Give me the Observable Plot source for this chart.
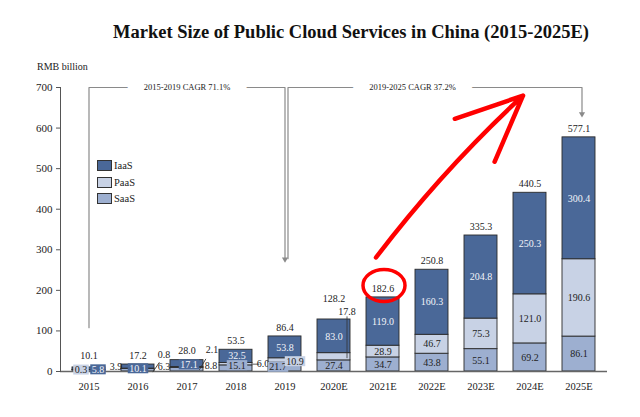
<!DOCTYPE html>
<html>
<head>
<meta charset="utf-8">
<script src="https://cdn.jsdelivr.net/npm/d3@7"></script>
<script src="https://cdn.jsdelivr.net/npm/@observablehq/plot@0.6"></script>
<style>
  body { margin: 0; background: #fff; }
  #wrap { position: relative; width: 640px; height: 417px; font-family: "Liberation Serif", "Times New Roman", serif; color: #222; }
  #chart { position: absolute; left: 0; top: 0; }
  #title { position: absolute; left: 0; width: 702px; top: 23px; text-align: center; font-weight: bold; font-size: 18.5px; line-height: 18.5px; color: #111; white-space: nowrap; }
  #unit { position: absolute; left: 37px; top: 62px; font-size: 10px; line-height: 10px; color: #222; }
  .lg { position: absolute; left: 97px; height: 11px; font-size: 10.5px; line-height: 11px; color: #222; }
  .lg span { display: inline-block; box-sizing: border-box; width: 15px; height: 11px; border: 1px solid #333; vertical-align: top; margin-right: 2px; }
</style>
</head>
<body>
<div id="wrap">
  <div id="chart"></div>
  <div id="title">Market Size of Public Cloud Services in China (2015-2025E)</div>
  <div id="unit">RMB billion</div>
  <div id="legend"></div>
</div>
<script>
// ---------------- data ----------------
const years  = ["2015","2016","2017","2018","2019","2020E","2021E","2022E","2023E","2024E","2025E"];
const iaas   = [5.8, 10.1, 17.1, 32.5, 53.8, 83.0, 119.0, 160.3, 204.8, 250.3, 300.4];
const paas   = [0.3, 0.8, 2.1, 6.0, 10.9, 17.8, 28.9, 46.7, 75.3, 121.0, 190.6];
const saas   = [3.9, 6.3, 8.8, 15.1, 21.7, 27.4, 34.7, 43.8, 55.1, 69.2, 86.1];
const totals = [10.1, 17.2, 28.0, 53.5, 86.4, 128.2, 182.6, 250.8, 335.3, 440.5, 577.1];
const seriesNames = ["IaaS", "PaaS", "SaaS"];
const yTicks = [0, 100, 200, 300, 400, 500, 600, 700];
const cagrLabels = ["2015-2019 CAGR 71.1%", "2019-2025 CAGR 37.2%"];

// ---------------- styling ----------------
const colors = {IaaS: "#4a6898", PaaS: "#c8d2e5", SaaS: "#9dafd0"};
const stackOrder = ["SaaS", "PaaS", "IaaS"];
const values = {IaaS: iaas, PaaS: paas, SaaS: saas};

const rows = [];
years.forEach((yr, i) => {
  let base = 0;
  for (const s of stackOrder) {
    const v = values[s][i];
    rows.push({year: yr, series: s, value: v, y1: base, y2: base + v, mid: base + v / 2});
    base += v;
  }
});
const totalRows = years.map((yr, i) => ({year: yr, total: totals[i]}));

// label placement tweaks for thin early segments (pixels)
const special = {
  "2015|PaaS": {dx: -8, dy: 0, box: true},
  "2015|IaaS": {dx: 9, dy: 1, box: true},
  "2015|SaaS": {dx: 27, dy: -4},
  "2016|IaaS": {dx: 0, dy: 2, box: true},
  "2016|PaaS": {dx: 26, dy: -14},
  "2016|SaaS": {dx: 26, dy: -3},
  "2017|IaaS": {dx: 2, dy: 1, box: true},
  "2017|PaaS": {dx: 25, dy: -18},
  "2017|SaaS": {dx: 24, dy: -4},
  "2018|IaaS": {dx: 1, dy: -1, box: true},
  "2018|SaaS": {dx: 1, dy: -3, box: true},
  "2018|PaaS": {dx: 27, dy: 0},
  "2019|SaaS": {dx: -7, dy: 0, box: true},
  "2019|PaaS": {dx: 10, dy: 1, box: true},
  "2020E|PaaS": {dx: 13, dy: -45}
};
const leaders = [
  {key: "2016|PaaS", dx: 15, dy: 3, length: 11, rotate: 34},
  {key: "2017|PaaS", dx: 12.5, dy: 2, length: 12, rotate: 31},
  {key: "2018|PaaS", dx: 17, dy: 0, length: 6, rotate: 90},
  {key: "2020E|PaaS", dx: 13, dy: 1, length: 41, rotate: 0}
];
const totalDy = {"2015": -12, "2020E": -21};

const keyOf = d => d.year + "|" + d.series;
const fmt = v => v.toFixed(1);
const lineShape = {draw(ctx, l) { ctx.moveTo(0, 0); ctx.lineTo(0, -l); }};
const ellipse = {draw(ctx) {
  const rx = 21, ry = 16, k = 0.5523;
  ctx.moveTo(rx, 0);
  ctx.bezierCurveTo(rx, ry * k, rx * k, ry, 0, ry);
  ctx.bezierCurveTo(-rx * k, ry, -rx, ry * k, -rx, 0);
  ctx.bezierCurveTo(-rx, -ry * k, -rx * k, -ry, 0, -ry);
  ctx.bezierCurveTo(rx * k, -ry, rx, -ry * k, rx, 0);
  ctx.closePath();
}};

const marks = [];
// brackets (CAGR)
const bracketColor = "#8a8a8a";
marks.push(Plot.line([{x: years[0], y: 108}, {x: years[0], y: 700}, {x: years[4], y: 700}, {x: years[4], y: 273}],
  {x: "x", y: "y", stroke: bracketColor, strokeWidth: 1.2, dx: 0}));
marks.push(Plot.line([{x: years[4], y: 278}, {x: years[4], y: 700}, {x: years[10], y: 700}, {x: years[10], y: 631}],
  {x: "x", y: "y", stroke: bracketColor, strokeWidth: 1.2, dx: 3}));
marks.push(Plot.dot([{x: years[4], y: 268}], {x: "x", y: "y", symbol: "triangle", rotate: 180, r: 2.3, fill: bracketColor, dy: -3.5, dx: 0}));
marks.push(Plot.dot([{x: years[10], y: 626}], {x: "x", y: "y", symbol: "triangle", rotate: 180, r: 2.3, fill: bracketColor, dy: -3.5, dx: 3}));
marks.push(Plot.text([{x: years[2], y: 700, t: cagrLabels[0]}], {x: "x", y: "y", text: "t", fontSize: 8.5, fill: "#222", stroke: "white", strokeWidth: 33, dx: 0}));
marks.push(Plot.text([{x: years[6], y: 700, t: cagrLabels[1]}], {x: "x", y: "y", text: "t", fontSize: 8.5, fill: "#222", stroke: "white", strokeWidth: 33, dx: 29.5}));

// bars
marks.push(Plot.barY(rows, {x: "year", y1: "y1", y2: "y2", fill: "series", stroke: "#2a2a2a", strokeWidth: 0.9}));
marks.push(Plot.ruleY([0], {stroke: "#666", strokeWidth: 1.6}));

// leader lines
for (const L of leaders) {
  marks.push(Plot.vector(rows.filter(d => keyOf(d) === L.key), {x: "year", y: "mid", length: L.length, rotate: L.rotate, anchor: "start", shape: lineShape, stroke: "#333", strokeWidth: 0.8, dx: L.dx, dy: L.dy}));
}

// normal in-segment labels
const normal = rows.filter(d => !special[keyOf(d)]);
marks.push(Plot.text(normal.filter(d => d.series === "IaaS"), {x: "year", y: "mid", text: d => fmt(d.value), fill: "#f2f4f8", fontSize: 10}));
marks.push(Plot.text(normal.filter(d => d.series !== "IaaS"), {x: "year", y: "mid", text: d => fmt(d.value), fill: "#222", fontSize: 10}));

// special labels
for (const [key, sp] of Object.entries(special)) {
  const r = rows.filter(d => keyOf(d) === key);
  const white = sp.box && r[0].series === "IaaS";
  marks.push(Plot.text(r, {x: "year", y: "mid", text: d => fmt(d.value), fill: white ? "#f2f4f8" : "#222", fontSize: 10, dx: sp.dx, dy: sp.dy, className: sp.box ? "box-" + r[0].series : undefined}));
}

// totals
for (const t of totalRows) {
  marks.push(Plot.text([t], {x: "year", y: "total", text: d => fmt(d.total), fill: "#222", fontSize: 10, dy: totalDy[t.year] ?? -9}));
}

// axes
marks.push(Plot.axisY({ticks: yTicks, tickSize: 4, tickPadding: 4, fontSize: 11, label: null, stroke: "#555", fill: "#222"}));
marks.push(Plot.axisX({tickSize: 0, tickPadding: 11, fontSize: 10.5, label: null, fill: "#222"}));
marks.push(Plot.frame({anchor: "left", stroke: "#555"}));

// hand-drawn red annotation
marks.push(Plot.dot([{x: "2021E", y: 212}], {x: "x", y: "y", symbol: ellipse, r: 10, stroke: "#f00", strokeWidth: 3.5, fill: "none", dx: 1}));
marks.push(Plot.arrow([{x1: "2021E", y1: 281, x2: "2024E", y2: 680}], {x1: "x1", y1: "y1", x2: "x2", y2: "y2", bend: 5, stroke: "#f00", strokeWidth: 4.5, headLength: 24, headAngle: 48, dx: -7}));

const chart = Plot.plot({
  width: 640,
  height: 417,
  marginLeft: 60,
  marginRight: 33,
  marginTop: 87,
  marginBottom: 46,
  style: {fontFamily: "Liberation Serif, Times New Roman, serif", fontSize: "10px", color: "#222", background: "white"},
  x: {domain: years, paddingInner: 0.32, paddingOuter: 0.16, axis: null},
  y: {domain: [0, 700], axis: null},
  color: {domain: seriesNames, range: seriesNames.map(s => colors[s])},
  marks
});
document.getElementById("chart").appendChild(chart);

// background boxes behind some labels
const ns = "http://www.w3.org/2000/svg";
for (const s of seriesNames) {
  chart.querySelectorAll(`g.box-${s} text`).forEach(t => {
    const b = t.getBBox();
    const r = document.createElementNS(ns, "rect");
    r.setAttribute("x", b.x - 1.5);
    r.setAttribute("y", b.y + 0.5);
    r.setAttribute("width", b.width + 3);
    r.setAttribute("height", b.height - 1);
    r.setAttribute("fill", colors[s]);
    r.setAttribute("stroke", "none");
    const tr = t.getAttribute("transform");
    if (tr) r.setAttribute("transform", tr);
    t.parentNode.insertBefore(r, t);
  });
}

// legend
const legend = document.getElementById("legend");
seriesNames.forEach((s, i) => {
  const it = document.createElement("div");
  it.className = "lg";
  it.style.top = [160, 177, 193][i] + "px";
  const sw = document.createElement("span");
  sw.style.background = colors[s];
  it.appendChild(sw);
  it.appendChild(document.createTextNode(s));
  legend.appendChild(it);
});
</script>
</body>
</html>
